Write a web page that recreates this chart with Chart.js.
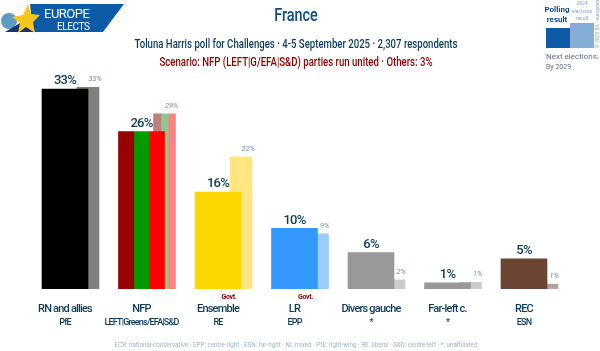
<!DOCTYPE html>
<html>
<head>
<meta charset="utf-8">
<script src="https://cdn.jsdelivr.net/npm/chart.js@4"></script>
<style>
body { margin: 0; background: #fff; width: 600px; height: 351px; overflow: hidden; position: relative; font-family: Roboto, sans-serif; }
#chart_box { position: absolute; left: 0; top: 0; width: 600px; height: 351px; }
.txt { position: absolute; white-space: nowrap; text-align: center; transform: translateX(-50%) scaleX(0.8); font-weight: 500; }
svg { position: absolute; left: 0; top: 0; font-family: Roboto, sans-serif; }
</style>
</head>
<body>
<div id="chart_box"><canvas id="chart" width="600" height="351"></canvas></div>
<svg width="600" height="351">
  <polygon points="30,4 124,4 103,32 33,32" fill="#0d5aa7"/>
  <circle cx="9" cy="21" r="8" fill="#5b9bc4"/>
  <polygon points="5,32 20,23 36,25 33,32" fill="#1c2f6e"/>
  <polygon points="28,4 31,14 40,15 33,22 35,33 26,27 18,33 20,23 12,17 23,15" fill="#f5c61e"/>
  <text x="44" y="18" font-size="13" letter-spacing="-0.5" fill="#fff">EUROPE</text>
  <text x="57" y="30" font-size="10" letter-spacing="-0.4" fill="#fff">ELECTS</text>
  <rect x="546" y="28" width="24" height="20" fill="#0d5aa7"/>
  <rect x="570" y="23" width="24" height="25" fill="#85add6"/>
  <text x="557" y="12" text-anchor="middle" font-weight="bold" font-size="8" fill="#0d4a80">Polling</text>
  <text x="557" y="22" text-anchor="middle" font-weight="bold" font-size="8" fill="#0d4a80">result</text>
  <text x="582" y="5" text-anchor="middle" font-size="5" fill="#8aa8c6">2024</text>
  <text x="582" y="13" text-anchor="middle" font-size="5" fill="#8aa8c6">elections</text>
  <text x="582" y="20" text-anchor="middle" font-size="5" fill="#8aa8c6">result</text>
  <text x="599" y="48" transform="rotate(-90 599 48)" font-size="5" fill="#8aa8c6">© 2025 EA · europeelects</text>
  <text x="546" y="59" font-size="8" fill="#5b7389">Next elections:</text>
  <text x="546" y="69" font-size="7" fill="#5b7389">By 2029</text>
</svg>
<div class="txt" style="left:296px;top:4px;font-size:18px;color:#0d4a80;">France</div>
<div class="txt" style="left:296px;top:37px;font-size:12px;color:#0b3a5b;">Toluna Harris poll for Challenges · 4-5 September 2025 · 2,307 respondents</div>
<div class="txt" style="left:296px;top:55px;font-size:12px;color:#8b0000;">Scenario: NFP (LEFT|G/EFA|S&amp;D) parties run united · Others: 3%</div>
<div class="txt" style="left:296px;top:340px;font-size:8px;color:#9fb4c4;font-weight:400;transform:translateX(-50%) scaleX(0.78);">ECR: national-conservative · EPP: centre-right · ESN: far-right · NI: mixed · PfE: right-wing · RE: liberal · S&amp;D: centre-left · *: unaffiliated</div>
<script>
const party_names = ['RN and allies', 'NFP', 'Ensemble', 'LR', 'Divers gauche', 'Far-left c.', 'REC']
const party_groups = ['PfE', 'LEFT|Greens/EFA|S&D', 'RE', 'EPP', '*', '*', 'ESN']
const polling = [33, 26, 16, 10, 6, 1, 5]
const election = [33.3, 28.9, 21.8, 9.1, 1.5, 1.1, 0.8]
const polling_labels = ['33%', '26%', '16%', '10%', '6%', '1%', '5%']
const election_labels = ['33%', '29%', '22%', '9%', '2%', '1%', '1%']
const polling_colors = [['#000000'], ['#990000', '#009900', '#ff0000'], ['#ffd700'], ['#3399ff'], ['#999999'], ['#999999'], ['#6b4433']]
const election_colors = [['#808080'], ['#c27f7f', '#8cc88c', '#ff8080'], ['#ffe680'], ['#99ccff'], ['#cccccc'], ['#cccccc'], ['#b5a199']]
const govt_parties = ['Ensemble', 'LR']

const unit_px = 76.5
const main_w = 46
const back_w = 22

// one dataset per stripe, so NFP can be split in three
function make_bars(values, colors, shift_px, width, order) {
    let sets = []
    values.forEach((v, i) => {
        let n = colors[i].length
        colors[i].forEach((c, k) => {
            let off = shift_px + (k - (n - 1) / 2) * width / n
            sets.push({
                data: [{ x: i + off / unit_px, y: v }],
                backgroundColor: c,
                barThickness: width / n,
                grouped: false,
                order: order
            })
        })
    })
    return sets
}

const value_labels = {
    id: 'value_labels',
    beforeDraw(chart) {
        chart.ctx.letterSpacing = '-0.8px'
    },
    afterDraw(chart) {
        let ctx = chart.ctx
        let xs = chart.scales.x, ys = chart.scales.y
        ctx.save()
        ctx.textAlign = 'center'
        ctx.textBaseline = 'middle'
        polling.forEach((v, i) => {
            let cx = xs.getPixelForValue(i)
            ctx.letterSpacing = '-0.8px'
            ctx.font = '500 13px Roboto'
            ctx.fillStyle = '#0b3a5b'
            ctx.fillText(polling_labels[i], cx, ys.getPixelForValue(v) - 8)
            ctx.letterSpacing = '-0.3px'
            ctx.font = 'italic 8px Roboto'
            ctx.fillStyle = '#7a93aa'
            ctx.fillText(election_labels[i], cx + main_w / 2 + 7, ys.getPixelForValue(election[i]) - 8)
            if (govt_parties.includes(party_names[i])) {
                ctx.font = 'bold 7px Roboto'
                ctx.fillStyle = '#8b0000'
                ctx.fillText('Govt.', cx + 11, ys.getPixelForValue(0) + 8)
            }
        })
        ctx.restore()
    }
}

function label_axis(names, size, weight, pad, box_h) {
    return {
        type: 'linear',
        position: 'bottom',
        weight: weight,
        offset: false,
        min: -65 / unit_px,
        max: 535 / unit_px,
        grid: { display: false, drawTicks: false },
        border: { display: false },
        afterFit: (scale) => { scale.height = box_h },
        ticks: {
            stepSize: 1,
            includeBounds: false,
            autoSkip: false,
            maxRotation: 0,
            padding: pad,
            color: '#0b3a5b',
            font: { family: 'Roboto', size: size, weight: '500' },
            callback: (value) => names[value]
        }
    }
}

new Chart(document.getElementById('chart').getContext('2d'), {
    type: 'bar',
    data: {
        datasets: make_bars(polling, polling_colors, 0, main_w, 1)
            .concat(make_bars(election, election_colors, main_w / 2, back_w, 2))
    },
    plugins: [value_labels],
    options: {
        responsive: false,
        animation: false,
        layout: { padding: { top: 60, bottom: 23, left: 0, right: 0 } },
        plugins: { legend: { display: false }, tooltip: { enabled: false } },
        scales: {
            x: label_axis(party_names, 11, 1, 14, 25),
            x2: label_axis(party_groups, 9, 2, 3, 14),
            y: { display: false, min: 0, max: 37.8 }
        }
    }
})
</script>
</body>
</html>
